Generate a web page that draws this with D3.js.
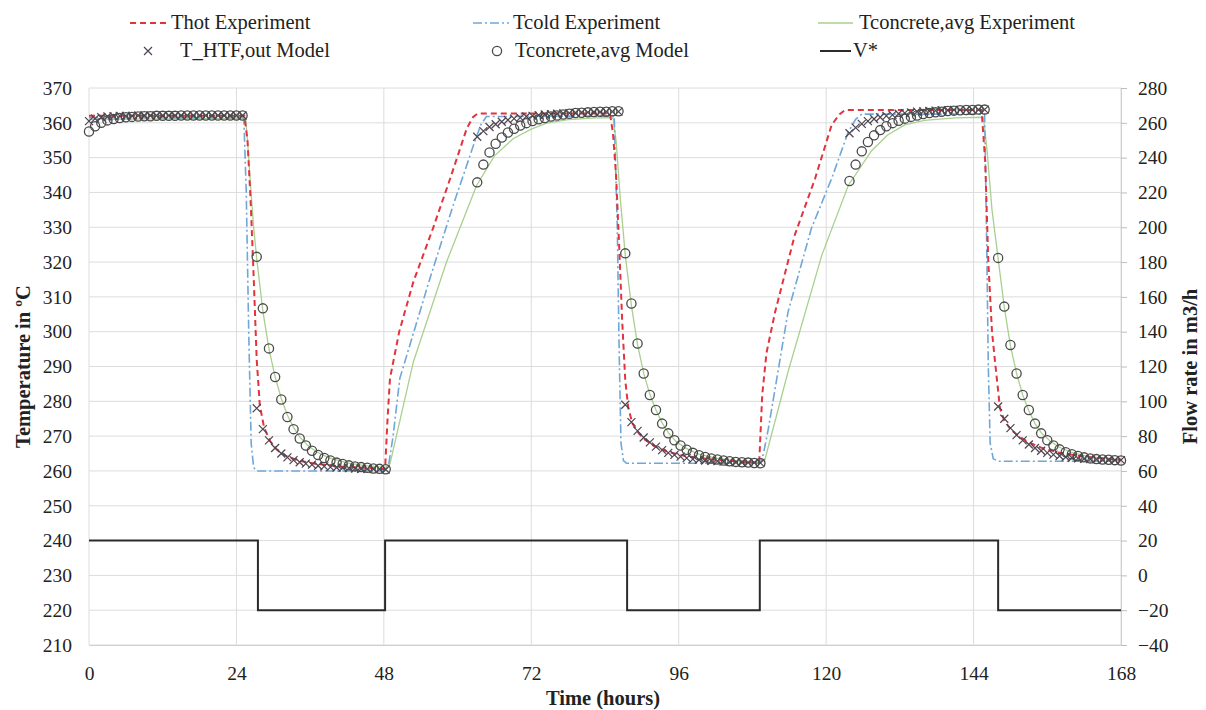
<!DOCTYPE html>
<html>
<head>
<meta charset="utf-8">
<script src="https://cdn.jsdelivr.net/npm/d3@7"></script>
<style>
body { margin: 0; background: #fff; }
text { font-family: "Liberation Serif", "Times New Roman", serif; fill: #222; }
</style>
</head>
<body>
<svg id="chart" width="1206" height="710"></svg>
<script>
// ---- data ----
var xTicks = [0, 24, 48, 72, 96, 120, 144, 168];
var tempTicks = [210, 220, 230, 240, 250, 260, 270, 280, 290, 300, 310, 320, 330, 340, 350, 360, 370];
var flowTicks = [-40, -20, 0, 20, 40, 60, 80, 100, 120, 140, 160, 180, 200, 220, 240, 260, 280];

// Thot Experiment
var hotTime = [0, 25.3, 25.8, 26.3, 26.8, 27.3, 27.8, 28.5, 29.5, 30.5, 32, 34, 37, 41, 45, 48.2,
  48.6, 49, 50.5, 52.8, 56, 58.8, 61.5, 62.5, 63.3, 84.8, 85.3, 85.8, 86.3, 86.8, 87.3, 87.8, 88.5,
  89.5, 90.5, 92, 94, 97, 101, 105, 109.1, 109.6, 110.3, 111.7, 114.9, 118.2, 120.9, 122.2, 123.1,
  145.3, 145.9, 146.4, 147, 147.5, 148.3, 149, 150, 151.5, 153, 155, 158, 162, 168];
var hotTemp = [362, 362, 355, 338, 316, 292, 279, 272.5, 268.5, 266.3, 264.4, 263, 262, 261.3, 260.9, 260.5,
  275, 286.6, 300, 314.3, 329.7, 344, 358.4, 361.6, 362.7, 362.7, 357, 345, 325, 303, 286, 278, 273.5,
  270.8, 269, 267.2, 265.6, 264.3, 263.4, 262.8, 262.3, 282, 294, 305.7, 327.8, 344, 359.4, 362.5, 363.7,
  363.7, 348.8, 320, 300, 291.3, 278, 274.5, 272, 269.8, 268.2, 266.7, 265.2, 264.1, 263.2];

// Tcold Experiment
var coldTime = [0, 25.2, 25.6, 26, 26.4, 26.8, 27.3, 48.3, 48.8, 49.5, 50.6, 55.5, 59.3, 62.6, 63.8, 64.7,
  85.5, 86, 86.3, 86.6, 87, 87.5, 109.3, 109.8, 110.6, 113.8, 117.6, 120.9, 123.6, 124.8, 125.8,
  145.8, 146.1, 146.4, 146.7, 147.2, 148, 168];
var coldTemp = [361.5, 361.5, 340, 300, 268, 261, 260, 260, 262, 270, 286.6, 315.3, 336.4, 353.6, 359.5, 361.8,
  362, 330, 295, 268, 263, 262.2, 262.2, 265, 272.2, 305.7, 329.7, 344, 357.4, 361, 362.5,
  362.5, 330, 290, 268, 263.5, 262.8, 262.8];

// Tconcrete,avg Experiment
var concTime = [0, 25.5, 25.8, 26.3, 26.8, 27.3, 28.3, 29.3, 30.3, 31.3, 32.3, 33.3, 34.3, 35.5, 37, 39, 42, 45, 48.2,
  49, 52.8, 58.2, 63.1, 66, 69.1, 72, 74.5, 78, 82.6, 85.3, 85.8, 86.5, 87.3, 88.3, 89.3, 90.3, 91.3,
  92.3, 93.3, 94.3, 95.5, 97, 99, 102, 105, 109.2, 110, 113.8, 119.3, 123.6, 127.4, 130, 132.8, 136,
  141, 145.6, 146.2, 147, 148, 149, 150, 151, 152, 153, 154, 155, 156.5, 158, 160, 163, 168];
var concTemp = [361, 361.3, 355, 342, 330, 321, 306, 295, 287, 280.8, 276, 272.5, 269.8, 267.5, 265.5, 263.8, 262.3, 261.5, 261,
  262, 291.3, 320, 342, 350.5, 355.5, 358.2, 359.9, 360.9, 361.4, 361.5, 355, 338, 322, 307.5, 296.3, 288, 282,
  277.5, 273.8, 271, 268.6, 266.7, 265, 263.7, 263, 262.5, 263, 288.5, 322, 342, 352, 356.5, 359.4, 360.7,
  361.4, 361.6, 352, 335, 321, 307, 296, 288, 281.8, 277.3, 273.6, 271, 268.5, 266.8, 265.3, 264, 263.2];

// model output, hourly samples, one array per period
var modelStart = [0, 27.3, 63.2, 87.3, 123.8, 148];
var htfModel = [
  [360.5, 361.2, 361.6, 361.8, 361.9, 362.0, 362.0, 362.0, 362.1, 362.1, 362.1, 362.1, 362.1,
   362.1, 362.1, 362.1, 362.1, 362.1, 362.1, 362.1, 362.1, 362.1, 362.1, 362.1, 362.1, 362.1],
  [278, 272, 268.8, 266.6, 265.0, 263.9, 263.1, 262.5, 262.1, 261.8, 261.5, 261.3, 261.1, 261.0,
   260.9, 260.8, 260.7, 260.6, 260.6, 260.5, 260.5, 260.4],
  [356.0, 357.6, 358.8, 359.6, 360.3, 360.8, 361.2, 361.5, 361.8, 362.0, 362.2, 362.4, 362.5, 362.6,
   362.7, 362.8, 362.9, 363.0, 363.0, 363.1, 363.1, 363.2, 363.2, 363.2],
  [279.0, 274.0, 271.5, 269.6, 268.2, 267.0, 266.0, 265.2, 264.6, 264.1, 263.7, 263.4, 263.2, 263.0,
   262.9, 262.8, 262.7, 262.6, 262.5, 262.5, 262.4, 262.4, 262.3],
  [357.0, 358.6, 359.7, 360.5, 361.1, 361.6, 362.0, 362.3, 362.6, 362.8, 363.0, 363.2, 363.3, 363.4,
   363.5, 363.6, 363.6, 363.7, 363.7, 363.7, 363.8, 363.8, 363.8],
  [278.5, 275.0, 272.3, 270.3, 268.8, 267.6, 266.6, 265.8, 265.2, 264.7, 264.3, 264.0, 263.8, 263.6,
   263.5, 263.4, 263.3, 263.2, 263.2, 263.1, 263.1]
];
var concModel = [
  [357.5, 359.0, 360.0, 360.7, 361.1, 361.4, 361.6, 361.7, 361.8, 361.9, 361.9, 362.0, 362.0,
   362.0, 362.0, 362.1, 362.1, 362.1, 362.1, 362.1, 362.1, 362.1, 362.1, 362.1, 362.1, 362.1],
  [321.5, 306.7, 295.2, 287.0, 280.5, 275.5, 272.0, 269.3, 267.3, 265.8, 264.6, 263.7, 263.0, 262.4,
   262.0, 261.6, 261.3, 261.1, 260.9, 260.7, 260.6, 260.5],
  [342.9, 348.0, 351.5, 354.0, 355.8, 357.2, 358.3, 359.2, 359.9, 360.5, 361.0, 361.4, 361.8, 362.1,
   362.4, 362.6, 362.8, 362.9, 363.0, 363.1, 363.2, 363.2, 363.3, 363.3],
  [322.5, 308.1, 296.6, 288.0, 281.8, 277.5, 273.6, 270.8, 268.8, 267.3, 266.1, 265.2, 264.5, 264.0,
   263.6, 263.3, 263.0, 262.8, 262.6, 262.5, 262.4, 262.3, 262.2],
  [343.3, 348.0, 351.8, 354.5, 356.4, 357.9, 359.0, 359.9, 360.6, 361.2, 361.7, 362.1, 362.5, 362.8,
   363.0, 363.2, 363.4, 363.5, 363.6, 363.7, 363.7, 363.8, 363.8],
  [321.2, 307.2, 296.2, 288.0, 281.8, 277.5, 273.6, 270.8, 268.8, 267.3, 266.2, 265.4, 264.8, 264.3,
   263.9, 263.6, 263.4, 263.3, 263.2, 263.1, 263.0]
];

// V* flow rate (right axis), step changes
var flowTime = [0, 27.5, 48.2, 87.6, 109.2, 148, 168];
var flowRate = [20, -20, 20, -20, 20, -20, -20];

// ---- chart ----
var svg = d3.select("#chart");
var plotLeft = 89, plotRight = 1121, plotTop = 88, plotBottom = 645;
var fontFamily = '"Liberation Serif", "Times New Roman", serif';

var x = d3.scaleLinear().domain([0, 168]).range([plotLeft, plotRight]);
var yT = d3.scaleLinear().domain([210, 370]).range([plotBottom, plotTop]);
var yF = d3.scaleLinear().domain([-40, 280]).range([plotBottom, plotTop]);

// grid
svg.append("g").selectAll("line").data(tempTicks).enter().append("line")
  .attr("x1", plotLeft).attr("x2", plotRight)
  .attr("y1", function (d) { return yT(d); }).attr("y2", function (d) { return yT(d); })
  .attr("stroke", "#dcdcdc").attr("stroke-width", 1);
svg.append("g").selectAll("line").data(xTicks).enter().append("line")
  .attr("x1", function (d) { return x(d); }).attr("x2", function (d) { return x(d); })
  .attr("y1", plotTop).attr("y2", plotBottom)
  .attr("stroke", "#dcdcdc").attr("stroke-width", 1);

// axes
var leftAxis = svg.append("g").attr("transform", "translate(" + plotLeft + ",0)")
  .call(d3.axisLeft(yT).tickValues(tempTicks).tickSize(0).tickPadding(17));
var rightAxis = svg.append("g").attr("transform", "translate(" + plotRight + ",0)")
  .call(d3.axisRight(yF).tickValues(flowTicks).tickSize(6).tickPadding(11));
var bottomAxis = svg.append("g").attr("transform", "translate(0," + plotBottom + ")")
  .call(d3.axisBottom(x).tickValues(xTicks).tickSize(0).tickPadding(21));

[leftAxis, rightAxis, bottomAxis].forEach(function (g) {
  g.select(".domain").attr("stroke", "#cfcfcf");
  g.selectAll(".tick line").attr("stroke", "#bdbdbd");
  g.selectAll("text").style("font-family", fontFamily)
    .style("font-size", "19.5px").attr("fill", "#333");
});
leftAxis.select(".domain").remove();

// axis titles
svg.append("text").attr("transform", "translate(30," + ((plotTop + plotBottom) / 2) + ") rotate(-90)")
  .attr("text-anchor", "middle").style("font-size", "20.5px").style("font-weight", "bold")
  .text("Temperature in ºC");
svg.append("text").attr("transform", "translate(1197," + ((plotTop + plotBottom) / 2) + ") rotate(-90)")
  .attr("text-anchor", "middle").style("font-size", "20.5px").style("font-weight", "bold")
  .text("Flow rate in m3/h");
svg.append("text").attr("x", 603).attr("y", 705)
  .attr("text-anchor", "middle").style("font-size", "20.5px").style("font-weight", "bold")
  .text("Time (hours)");

// lines
var line = d3.line()
  .x(function (d) { return x(d[0]); })
  .y(function (d) { return yT(d[1]); });

svg.append("path").datum(d3.zip(flowTime, flowRate))
  .attr("d", d3.line().curve(d3.curveStepAfter)
    .x(function (d) { return x(d[0]); })
    .y(function (d) { return yF(d[1]); }))
  .attr("fill", "none").attr("stroke", "#2b2b2b").attr("stroke-width", 2);

svg.append("path").datum(d3.zip(concTime, concTemp)).attr("d", line)
  .attr("fill", "none").attr("stroke", "#a9d08e").attr("stroke-width", 1.3);
svg.append("path").datum(d3.zip(coldTime, coldTemp)).attr("d", line)
  .attr("fill", "none").attr("stroke", "#6fa7d8").attr("stroke-width", 1.6)
  .attr("stroke-dasharray", "9,3,2,3");
svg.append("path").datum(d3.zip(hotTime, hotTemp)).attr("d", line)
  .attr("fill", "none").attr("stroke", "#e2343c").attr("stroke-width", 2)
  .attr("stroke-dasharray", "6,4");

// model markers
var circPts = [], crossPts = [];
modelStart.forEach(function (t0, k) {
  concModel[k].forEach(function (v, i) { circPts.push([t0 + i, v]); });
  htfModel[k].forEach(function (v, i) { crossPts.push([t0 + i, v]); });
});

var crossPath = "M-4,-4L4,4M-4,4L4,-4";
svg.append("g").selectAll("path").data(crossPts).enter().append("path")
  .attr("d", crossPath)
  .attr("transform", function (d) { return "translate(" + x(d[0]) + "," + yT(d[1]) + ")"; })
  .attr("stroke", "#4d4450").attr("stroke-width", 1.2).attr("fill", "none");

svg.append("g").selectAll("circle").data(circPts).enter().append("circle")
  .attr("cx", function (d) { return x(d[0]); })
  .attr("cy", function (d) { return yT(d[1]); })
  .attr("r", 4.6)
  .attr("fill", "none").attr("stroke", "#4a4a4a").attr("stroke-width", 1.3);

// legend
var lg = svg.append("g");
function legendText(tx, ty, label) {
  lg.append("text").attr("x", tx).attr("y", ty).style("font-size", "20.5px").text(label);
}
var row1 = 29, row2 = 57;
lg.append("line").attr("x1", 130).attr("x2", 168).attr("y1", row1 - 6).attr("y2", row1 - 6)
  .attr("stroke", "#e2343c").attr("stroke-width", 2).attr("stroke-dasharray", "6,4");
legendText(171, row1, "Thot Experiment");
lg.append("line").attr("x1", 473).attr("x2", 509).attr("y1", row1 - 6).attr("y2", row1 - 6)
  .attr("stroke", "#6fa7d8").attr("stroke-width", 1.6).attr("stroke-dasharray", "9,3,2,3");
legendText(513, row1, "Tcold Experiment");
lg.append("line").attr("x1", 818).attr("x2", 853).attr("y1", row1 - 6).attr("y2", row1 - 6)
  .attr("stroke", "#a9d08e").attr("stroke-width", 1.3);
legendText(859, row1, "Tconcrete,avg Experiment");

lg.append("path").attr("d", crossPath).attr("transform", "translate(148," + (row2 - 6) + ")")
  .attr("stroke", "#4d4450").attr("stroke-width", 1.2);
legendText(180, row2, "T_HTF,out Model");
lg.append("circle").attr("cx", 497).attr("cy", row2 - 6).attr("r", 4.6)
  .attr("fill", "none").attr("stroke", "#4a4a4a").attr("stroke-width", 1.3);
legendText(515, row2, "Tconcrete,avg Model");
lg.append("line").attr("x1", 820).attr("x2", 851).attr("y1", row2 - 6).attr("y2", row2 - 6)
  .attr("stroke", "#2b2b2b").attr("stroke-width", 2);
legendText(853, row2, "V*");
</script>
</body>
</html>
